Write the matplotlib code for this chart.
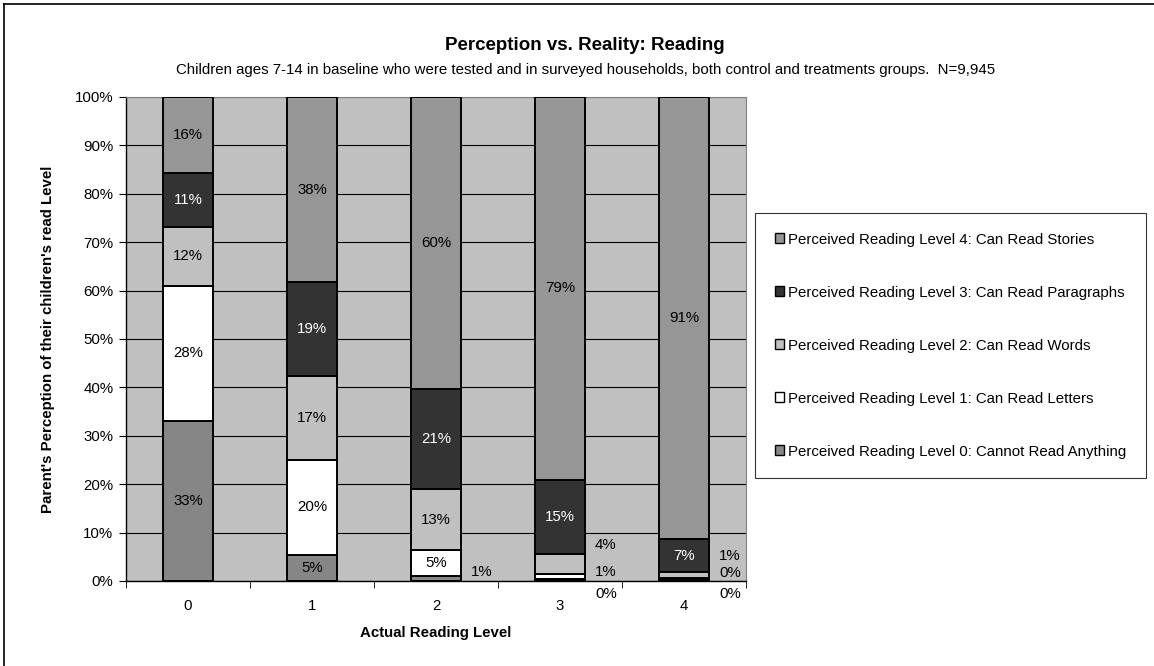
import matplotlib
matplotlib.use("Agg")
import matplotlib.pyplot as plt
from matplotlib.lines import Line2D
import numpy as np

plt.rcParams['font.family'] = ['Liberation Sans', 'DejaVu Sans']

# actual reading level (x categories)
categories = ["0", "1", "2", "3", "4"]

# percent of children by perceived level, for each actual level
level0 = [33.1, 5.4, 1.0, 0.4, 0.3]
level1 = [27.9, 19.7, 5.4, 1.1, 0.4]
level2 = [12.1, 17.3, 12.6, 4.1, 1.1]
level3 = [11.3, 19.3, 20.7, 15.3, 6.9]
level4 = [15.6, 38.3, 60.3, 79.1, 91.3]

series = [level0, level1, level2, level3, level4]
names = ["Perceived Reading Level 0: Cannot Read Anything",
         "Perceived Reading Level 1: Can Read Letters",
         "Perceived Reading Level 2: Can Read Words",
         "Perceived Reading Level 3: Can Read Paragraphs",
         "Perceived Reading Level 4: Can Read Stories"]
colors = ["#868686", "#ffffff", "#c0c0c0", "#333333", "#969696"]
text_colors = ["#000000", "#000000", "#000000", "#ffffff", "#000000"]

# small slices get their label outside, to the right of the bar
outside_y = {(2, 0): 1.9,
             (3, 0): -2.6, (3, 1): 1.9, (3, 2): 7.4,
             (4, 0): -2.6, (4, 1): 1.7, (4, 2): 5.2}

fs = 10.8

fig = plt.figure(figsize=(11.54, 6.66), dpi=100)
ax = fig.add_axes([126/1154, 85/666, 620/1154, 484/666])
ax.set_facecolor("#c0c0c0")

x = np.arange(len(categories))
bottom = np.zeros(len(categories))
handles = []
for k, vals in enumerate(series):
    vals = np.array(vals)
    b = ax.bar(x, vals, 0.4, bottom=bottom, color=colors[k], edgecolor="black",
               linewidth=1.4, label=names[k], zorder=3)
    handles.append(b)
    for i in range(len(x)):
        lab = f"{vals[i]:.0f}%"
        if (i, k) in outside_y:
            ax.text(x[i] + 0.37, outside_y[(i, k)], lab, ha="center", va="center",
                    fontsize=fs, color="black", zorder=4, clip_on=False)
        else:
            ax.text(x[i], bottom[i] + vals[i] / 2, lab, ha="center", va="center",
                    fontsize=fs, color=text_colors[k], zorder=4)
    bottom += vals

ax.set_xlim(-0.5, 4.5)
ax.set_ylim(0, 100)
ax.set_yticks(np.arange(0, 101, 10))
ax.set_yticklabels([f"{v}%" for v in range(0, 101, 10)], fontsize=fs)
ax.yaxis.grid(True, color="black", linewidth=0.8, zorder=0)
ax.set_axisbelow(True)

ax.set_xticks(x)
ax.set_xticklabels(categories, fontsize=fs)
ax.set_xticks(np.arange(-0.5, 4.6, 1), minor=True)
ax.tick_params(axis="x", which="major", length=0, pad=13)
ax.tick_params(axis="x", which="minor", length=5, direction="out")
ax.tick_params(axis="y", length=5, direction="out", pad=4)

ax.spines["top"].set_color("#808080")
ax.spines["right"].set_color("#808080")
ax.spines["left"].set_linewidth(1.0)
ax.spines["bottom"].set_linewidth(1.0)

ax.set_xlabel("Actual Reading Level", fontsize=fs, fontweight="bold", labelpad=9)
ax.set_ylabel("Parent's Perception of their children's read Level", fontsize=fs,
              fontweight="bold", labelpad=14)

fig.text(0.507, 1 - 46/666, "Perception vs. Reality: Reading", ha="center",
         va="center", fontsize=13.5, fontweight="bold")
fig.text(0.507, 1 - 70/666, "Children ages 7-14 in baseline who were tested and in surveyed "
         "households, both control and treatments groups.  N=9,945",
         ha="center", va="center", fontsize=fs)

leg = fig.legend(handles[::-1], names[::-1], loc="upper left",
                 bbox_to_anchor=(755/1154, 1 - 213/666), fontsize=fs,
                 frameon=True, fancybox=False, edgecolor="black",
                 labelspacing=2.6, handlelength=0.65, handleheight=0.65,
                 handletextpad=0.25, borderpad=1.3, borderaxespad=0)
leg.get_frame().set_linewidth(0.8)
for h in leg.legend_handles:
    h.set_linewidth(1.0)

# outer chart border
fig.add_artist(Line2D([4/1154, 4/1154], [0, 1 - 4/666], color="black", linewidth=1.2))
fig.add_artist(Line2D([4/1154, 1], [1 - 4/666, 1 - 4/666], color="black", linewidth=1.2))

fig.savefig("out.png", dpi=100)
